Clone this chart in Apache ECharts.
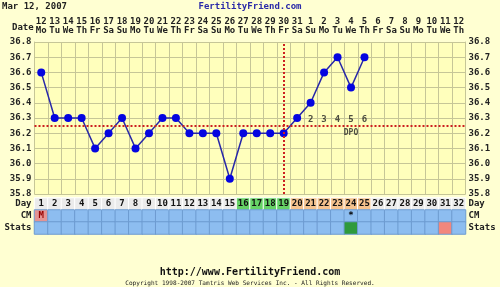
<!DOCTYPE html>
<html><head><meta charset="utf-8">
<script src="https://cdn.jsdelivr.net/npm/echarts@6/dist/echarts.min.js"></script>
<style>html,body{margin:0;padding:0;background:#ffffd2;}#c{width:500px;height:287px;}</style>
</head><body><div id="c"></div>
<script>
const days = Array.from({length:32},(_,i)=>String(i+1));
const dateLabels = ['12','13','14','15','16','17','18','19','20','21','22','23','24','25','26','27','28','29','30','31','1','2','3','4','5','6','7','8','9','10','11','12'];
const weekdayLabels = ['Mo','Tu','We','Th','Fr','Sa','Su','Mo','Tu','We','Th','Fr','Sa','Su','Mo','Tu','We','Th','Fr','Sa','Su','Mo','Tu','We','Th','Fr','Sa','Su','Mo','Tu','We','Th'];
const temps = [36.6,36.3,36.3,36.3,36.1,36.2,36.3,36.1,36.2,36.3,36.3,36.2,36.2,36.2,35.9,36.2,36.2,36.2,36.2,36.3,36.4,36.6,36.7,36.5,36.7];
const yTicks = ['35.8','35.9','36.0','36.1','36.2','36.3','36.4','36.5','36.6','36.7','36.8'];
const coverline = 36.25;
const ovulationDay = 19;
const dpoDays = [21,22,23,24,25];
const dpoNumbers = ['2','3','4','5','6'];
const fertileDays = [16,17,18,19];
const lutealDays = [20,21,22,23,24,25];
const rowNames = ['Day','CM','Stats'];
const cmMarks = {1:'M',24:'*'};
const statsMarks = {24:'green',31:'red'};

const mono = 'DejaVu Sans Mono';
const gridCol = '#c6c697';
const L = 34.5, R = 34.5;

const heat = [];
days.forEach((d,i)=>{
  const dn = i+1;
  let c = '#ebebeb';
  if (fertileDays.includes(dn)) c = '#66d266';
  else if (lutealDays.includes(dn)) c = '#f5c38e';
  heat.push({value:[i,0,1], itemStyle:{color:c,borderColor:'#ffffff',borderWidth:1}, label:{show:true, formatter:d}});
  const cm = cmMarks[dn];
  heat.push({value:[i,1,1], itemStyle:{color: cm==='M' ? '#e39494' : '#8dbdf0', borderColor:'#6d9bd0', borderWidth:1},
    label:{show:!!cm, formatter:cm||'', color: cm==='M' ? '#990000' : '#000', verticalAlign: cm==='*'?'top':'middle', offset: cm==='*'?[0,-5]:[0,0]}});
  const st = statsMarks[dn];
  heat.push({value:[i,2,1], itemStyle:{color: st==='green' ? '#2f9a3c' : st==='red' ? '#f2877d' : '#8dbdf0', borderColor:'#6d9bd0', borderWidth:1}, label:{show:false}});
});

const chart = echarts.init(document.getElementById('c'));
chart.setOption({
  backgroundColor:'#ffffd2',
  animation:false,
  textStyle:{fontFamily:mono},
  graphic:[
    {type:'text', left:2, top:2, style:{text:'Mar 12, 2007', font:'bold 9px "DejaVu Sans Mono"', fill:'#222'}},
    {type:'text', left:'center', top:2, style:{text:'FertilityFriend.com', font:'bold 9px "DejaVu Sans Mono"', fill:'#2a2aa8'}},
    {type:'text', left:12, top:23, style:{text:'Date', font:'bold 9px "DejaVu Sans Mono"', fill:'#222'}},
    {type:'text', left:'center', top:267, style:{text:'http://www.FertilityFriend.com', font:'bold 10px "DejaVu Sans Mono"', fill:'#111'}},
    {type:'text', left:'center', top:280, style:{text:'Copyright 1998-2007 Tamtris Web Services Inc. - All Rights Reserved.', font:'6.1px "DejaVu Sans Mono"', fill:'#222'}}
  ],
  grid:[
    {left:L, right:R, top:42, height:152, backgroundColor:'#ffffbc', show:true, borderWidth:0},
    {left:L, right:R, top:198, height:36}
  ],
  xAxis:[
    {type:'category', gridIndex:0, data:days, position:'top', boundaryGap:true,
      axisLine:{show:false}, axisTick:{show:false},
      splitLine:{show:true, interval:0, lineStyle:{color:gridCol, width:1}},
      axisLabel:{interval:0, margin:7, fontFamily:mono, fontWeight:'bold', fontSize:9, lineHeight:9, color:'#222',
        formatter:(v,i)=>dateLabels[i]+'\n'+weekdayLabels[i]}},
    {type:'category', gridIndex:1, data:days, boundaryGap:true, show:false}
  ],
  yAxis:[
    {type:'value', gridIndex:0, min:35.8, max:36.8, interval:0.1, position:'left',
      axisLine:{show:true, lineStyle:{color:gridCol}}, axisTick:{show:false},
      splitLine:{show:true, lineStyle:{color:gridCol}},
      axisLabel:{margin:3, fontFamily:mono, fontWeight:'bold', fontSize:9, color:'#222', formatter:(v)=>yTicks[Math.round((v-35.8)*10)]}},
    {type:'value', gridIndex:0, min:35.8, max:36.8, interval:0.1, position:'right',
      axisLine:{show:true, lineStyle:{color:gridCol}}, axisTick:{show:false}, splitLine:{show:false},
      axisLabel:{margin:3, fontFamily:mono, fontWeight:'bold', fontSize:9, color:'#222', formatter:(v)=>yTicks[Math.round((v-35.8)*10)]}},
    {type:'category', gridIndex:1, data:rowNames, inverse:true, position:'left',
      axisLine:{show:false}, axisTick:{show:false},
      axisLabel:{margin:3, fontFamily:mono, fontWeight:'bold', fontSize:9, color:'#222'}},
    {type:'category', gridIndex:1, data:rowNames, inverse:true, position:'right',
      axisLine:{show:false}, axisTick:{show:false},
      axisLabel:{margin:3, fontFamily:mono, fontWeight:'bold', fontSize:9, color:'#222'}}
  ],
  series:[
    {type:'line', xAxisIndex:0, yAxisIndex:0, data:temps, symbol:'circle', symbolSize:8,
      lineStyle:{color:'#2828a8', width:1.5}, itemStyle:{color:'#0505e0'},
      markLine:{silent:true, symbol:'none', label:{show:false},
        lineStyle:{color:'#cc2020', width:2, type:[2,2]},
        data:[{yAxis:coverline},{xAxis:ovulationDay-1}]}, z:3},
    {type:'scatter', xAxisIndex:0, yAxisIndex:0, symbolSize:0,
      data:dpoDays.map((d,i)=>({value:[d-1,36.29], label:{formatter:dpoNumbers[i]}})),
      label:{show:true, position:'inside', fontFamily:mono, fontWeight:'bold', fontSize:9, color:'#222'}},
    {type:'scatter', xAxisIndex:0, yAxisIndex:0, symbolSize:0,
      data:[{value:[22.5,36.2]}],
      label:{show:true, position:'inside', formatter:'DPO', fontFamily:mono, fontWeight:'bold', fontSize:8, color:'#222'}},
    {type:'heatmap', xAxisIndex:1, yAxisIndex:2, data:heat,
      label:{show:true, fontFamily:mono, fontWeight:'bold', fontSize:9, color:'#111'},
      emphasis:{disabled:true}}
  ]
});
</script></body></html>
